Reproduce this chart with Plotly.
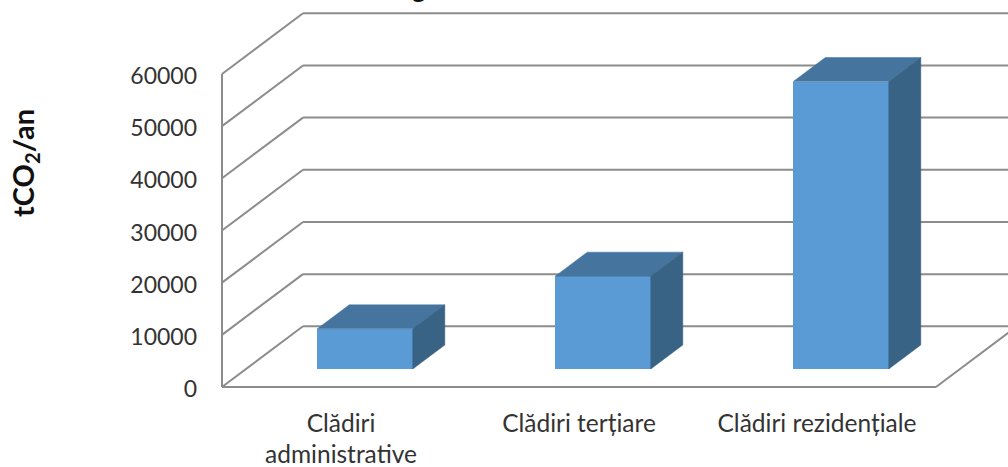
import plotly.graph_objects as go

categories = ["Clădiri<br>administrative", "Clădiri terțiare", "Clădiri rezidențiale"]
values = [7700, 17800, 55100]
y_ticks = [0, 10000, 20000, 30000, 40000, 50000, 60000]
y_title = "<b>tCO<sub>2</sub>/an</b>"
title_fragment = "<b>g</b>"

FONT = "Lato, Carlito, Calibri, sans-serif"
GRID = "#8c8c8c"
FRONT, TOP, SIDE = "#5b9bd5", "#45749f", "#386385"

# oblique projection of the 3D box: depth 0 = front of the floor, 1 = back wall
DX = 81 / 238      # category units per unit of depth
DY = 11635         # value units per unit of depth
BAR_W = 95.5 / 238
D0, D1 = 0.2965, 0.692
X_MIN, X_MAX = -0.5, 2.5
WALL_END = 3.2


def proj(i, v, d):
    return i + d * DX, v + d * DY


fig = go.Figure()

# front faces
fig.add_trace(go.Bar(
    x=[i + D0 * DX for i in range(len(values))],
    y=values,
    base=D0 * DY,
    width=BAR_W,
    marker=dict(color=FRONT, line=dict(width=0)),
    hoverinfo="skip",
    showlegend=False,
))

# top and side faces
for i, v in enumerate(values):
    l, r = i - BAR_W / 2, i + BAR_W / 2
    top = [proj(l, v, D0), proj(r, v, D0), proj(r, v, D1), proj(l, v, D1), proj(l, v, D0)]
    side = [proj(r, 0, D0), proj(r, 0, D1), proj(r, v, D1), proj(r, v, D0), proj(r, 0, D0)]
    for pts, col in ((top, TOP), (side, SIDE)):
        fig.add_trace(go.Scatter(
            x=[p[0] for p in pts], y=[p[1] for p in pts],
            mode="lines", fill="toself", fillcolor=col,
            line=dict(width=0.5, color=col),
            hoverinfo="skip", showlegend=False,
        ))

# walls and floor, kept behind the bars
shapes = []


def seg(a, b):
    shapes.append(dict(type="line", xref="x", yref="y", layer="below",
                       x0=a[0], y0=a[1], x1=b[0], y1=b[1],
                       line=dict(color=GRID, width=2)))


for t in y_ticks:
    seg(proj(X_MIN, t, 0), proj(X_MIN, t, 1))
    seg(proj(X_MIN, t, 1), proj(WALL_END, t, 1))
seg(proj(X_MIN, y_ticks[0], 0), proj(X_MIN, y_ticks[-1], 0))
seg(proj(X_MIN, 0, 0), proj(X_MAX, 0, 0))
seg(proj(X_MAX, 0, 0), proj(X_MAX, 0, 1))

fig.update_layout(
    width=1008, height=467,
    margin=dict(l=200, r=0, t=0, b=67, autoexpand=False),
    paper_bgcolor="white", plot_bgcolor="white",
    font=dict(family=FONT, color="#333333", size=23),
    bargap=0,
    shapes=shapes,
    xaxis=dict(
        range=[-141 / 238, 667 / 238],
        tickmode="array", tickvals=list(range(len(categories))), ticktext=categories,
        showgrid=False, zeroline=False, showline=False, ticks="",
        ticklabelstandoff=6, automargin=False,
        tickfont=dict(family=FONT, size=24.5, color="#333333"),
    ),
    yaxis=dict(
        range=[-2492, 74180],
        tickmode="array", tickvals=y_ticks, ticktext=[str(t) for t in y_ticks],
        showgrid=False, zeroline=False, showline=False, ticks="",
        ticklabelstandoff=2, ticklabelshift=2, automargin=False,
        tickfont=dict(family=FONT, size=23, color="#333333"),
    ),
    annotations=[
        dict(text=y_title, xref="paper", yref="paper", x=(24 - 200) / 808, y=0.5925,
             textangle=-90, showarrow=False, xanchor="center", yanchor="middle",
             font=dict(family=FONT, size=29, color="#111111")),
        dict(text=title_fragment, xref="paper", yref="paper", x=(419 - 200) / 808, y=0.985,
             showarrow=False, xanchor="center", yanchor="bottom",
             font=dict(family=FONT, size=26, color="#111111")),
    ],
)

fig.write_html("out.html", post_script="document.body.style.margin='0';",
               config={"displayModeBar": False})
